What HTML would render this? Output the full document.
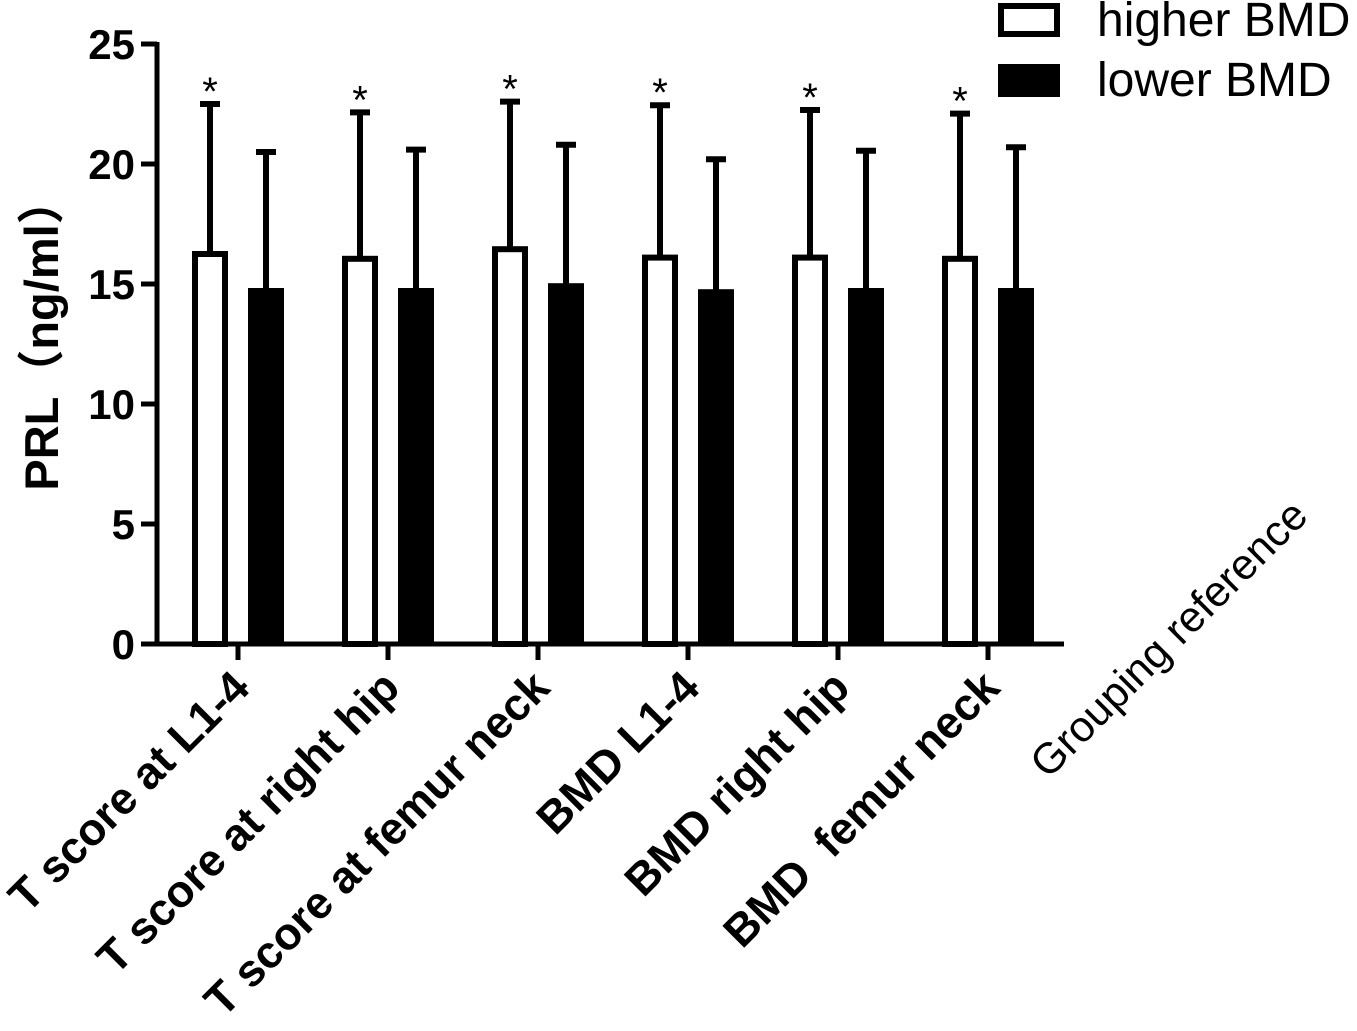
<!DOCTYPE html>
<html><head><meta charset="utf-8"><style>
html,body{margin:0;padding:0;background:#fff;}
svg{display:block;font-family:"Liberation Sans","Noto Sans CJK SC",sans-serif;}
text{white-space:pre;}
</style></head><body>
<svg id="chart" width="1357" height="1031" viewBox="0 0 1357 1031">
<g id="axes"></g><g id="marks"></g>
<text x="0" y="0" transform="translate(58,334) rotate(-90)" text-anchor="middle" font-size="47" font-weight="bold">PRL（ng/ml）</text>
<text x="0" y="0" transform="translate(1048,780) rotate(-45)" font-size="43">Grouping reference</text>
<g>
<rect x="1001" y="6" width="56" height="28" fill="#fff" stroke="#000" stroke-width="6"/>
<text x="1097" y="36" font-size="48">higher BMD</text>
<rect x="998" y="64" width="62" height="33" fill="#000"/>
<text x="1097" y="96" font-size="48">lower BMD</text>
</g>
</svg>
<script>
const categories=["T score at L1-4","T score at right hip","T score at femur neck","BMD L1-4","BMD right hip","BMD  femur neck"];
const higherMeans=[16.25,16.05,16.45,16.1,16.1,16.05];
const higherUpper=[22.5,22.15,22.6,22.45,22.25,22.1];
const lowerMeans=[14.75,14.75,14.95,14.7,14.75,14.75];
const lowerUpper=[20.5,20.6,20.8,20.2,20.55,20.7];
const yTicks=[0,5,10,15,20,25];
const NS="http://www.w3.org/2000/svg";
const y=v=>644-v*24;
const xc=i=>238+i*150;
const axes=document.getElementById('axes'),marks=document.getElementById('marks');
function mk(tag,attrs,parent){const e=document.createElementNS(NS,tag);for(const k in attrs)e.setAttribute(k,attrs[k]);parent.appendChild(e);return e;}
let e=mk('line',{x1:157,y1:y(0),x2:157,y2:y(25)-2,stroke:'#000','stroke-width':5},axes);


e=mk('line',{x1:155,y1:y(0),x2:1064,y2:y(0),stroke:'#000','stroke-width':5},axes);


yTicks.forEach(t=>{
 let l=mk('line',{x1:141,y1:y(t),x2:157,y2:y(t),stroke:'#000','stroke-width':5},axes);
 
 
 let tx=mk('text',{x:135,y:y(t)+15,'text-anchor':'end','font-size':42,'font-weight':'bold'},axes);tx.textContent=t;
 
 
});
categories.forEach((c,i)=>{
 const x=xc(i);
 let l=mk('line',{x1:x,y1:y(0),x2:x,y2:y(0)+16,stroke:'#000','stroke-width':5},axes);
 
 
 let tx=mk('text',{x:0,y:0,'text-anchor':'end','font-size':45,'font-weight':'bold',transform:`translate(${x+14},${y(0)+46}) rotate(-45)`},axes);tx.textContent=c;
 
 
 [[x-28,higherMeans[i],higherUpper[i]],[x+28,lowerMeans[i],lowerUpper[i]]].forEach(([cx,m,u])=>{
  let eb=mk('line',{x1:cx,y1:y(m),x2:cx,y2:y(u),stroke:'#000','stroke-width':6},marks);
  
  
  let cap=mk('line',{x1:cx-10,y1:y(u),x2:cx+10,y2:y(u),stroke:'#000','stroke-width':6},marks);
  
  
 });
 let b=mk('rect',{x:x-28-15,y:y(higherMeans[i]),width:30,height:y(0)-y(higherMeans[i]),fill:'#fff',stroke:'#000','stroke-width':6},marks);
 
 
 b=mk('rect',{x:x+28-18,y:y(lowerMeans[i])-2,width:36,height:y(0)-y(lowerMeans[i])+2,fill:'#000'},marks);
 
 
 let s=mk('text',{x:x-28,y:y(higherUpper[i])+1,'text-anchor':'middle','font-size':40},marks);s.textContent='*';
 
 
});
</script>
</body></html>
